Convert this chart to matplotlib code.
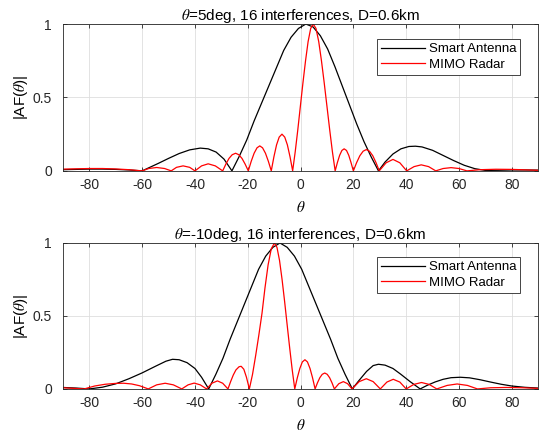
import numpy as np
import matplotlib
matplotlib.use("Agg")
import matplotlib.pyplot as plt

plt.rcParams['font.family'] = ['Liberation Sans', 'DejaVu Sans']
plt.rcParams['mathtext.fontset'] = 'stix'
plt.rcParams['axes.unicode_minus'] = False

# ---- data: (theta in deg, |AF|) ----
# top panel, theta = 5 deg
top_sa_theta = [-90, -85, -80, -75, -70, -65, -60, -57, -54, -50, -46, -42, -38, -35, -32, -29, -26,
                -23.2, -20.4, -17.6, -14.8, -12, -9.2, -6.4, -3.6, -0.8, 2, 4.75, 7.5, 10.25, 13,
                15.75, 18.5, 21.25, 24, 26.75, 29.5, 32, 35, 38, 41, 43.5, 46, 50, 54, 58, 62,
                66, 70, 75, 80, 85, 90]
top_sa_af = [0.008, 0.01, 0.012, 0.012, 0.01, 0.006, 0.0, 0.025, 0.05, 0.085, 0.118, 0.143, 0.155,
             0.15, 0.128, 0.08, 0.0, 0.1, 0.21, 0.34, 0.46, 0.58, 0.70, 0.82, 0.91, 0.97, 1.0, 0.98,
             0.92, 0.83, 0.71, 0.58, 0.45, 0.32, 0.2, 0.095, 0.0, 0.06, 0.115, 0.15, 0.166, 0.168,
             0.163, 0.14, 0.105, 0.07, 0.038, 0.015, 0.003, 0.004, 0.006, 0.006, 0.005]

top_mimo_theta = [-90, -85, -80, -75, -70, -65, -60, -57.5, -54.5, -51.5, -49, -47, -44.5, -42, -40,
                  -37.5, -35, -32.3, -29.5, -28.3, -27.1, -25.9, -24.6, -23.4, -22.2, -21, -19.8,
                  -18.7, -17.6, -16.5, -15.45, -14.4, -13.3, -12.2, -11.1, -10.1, -9.1, -8.1, -7.05,
                  -6.0, -5.0, -4.0, -3, -2.03, -1.05, -0.08, 0.9, 1.88, 2.85, 3.83, 4.8, 5.84, 6.88,
                  7.91, 8.95, 9.99, 11.03, 12.06, 13.1, 13.95, 14.8, 15.65, 16.5, 17.4, 18.25, 19.1,
                  20, 21.2, 22.45, 23.7, 24.9, 26.1, 27.35, 28.6, 29.8, 32.4, 35, 37.6, 40.2, 43,
                  45.7, 48.5, 51.2, 54, 57, 60, 63, 68, 74, 80, 85, 90]
top_mimo_af = [0.012, 0.014, 0.016, 0.016, 0.013, 0.008, 0.0, 0.016, 0.023, 0.016, 0.0, 0.024, 0.034,
               0.024, 0.0, 0.034, 0.048, 0.034, 0.0, 0.046, 0.085, 0.11, 0.12, 0.11, 0.085, 0.046,
               0.0, 0.065, 0.12, 0.157, 0.17, 0.157, 0.12, 0.065, 0.0, 0.096, 0.177, 0.23, 0.25,
               0.23, 0.177, 0.096, 0.0, 0.13, 0.28, 0.44, 0.6, 0.75, 0.88, 0.97, 1.0, 0.97, 0.88,
               0.75, 0.6, 0.44, 0.28, 0.13, 0.0, 0.057, 0.106, 0.139, 0.15, 0.139, 0.106, 0.057,
               0.0, 0.055, 0.103, 0.134, 0.145, 0.134, 0.103, 0.055, 0.0, 0.055, 0.078, 0.055, 0.0,
               0.029, 0.041, 0.029, 0.0, 0.016, 0.022, 0.016, 0.0, 0.008, 0.011, 0.01, 0.007, 0.004]

# bottom panel, theta = -10 deg
bot_sa_theta = [-90, -85, -80, -75, -70, -65, -60, -55, -51, -48.5, -46, -43, -40, -37.5, -34.8,
                -32.1, -29.4, -26.7, -24.0, -21.3, -18.6, -15.9, -13.2, -10.5, -7.8, -5.06, -2.32,
                0.42, 3.16, 5.9, 8.64, 11.38, 14.12, 16.86, 19.6, 22, 25, 27.5, 29.5, 32, 35, 38,
                41.5, 45.3, 48, 51, 54, 57, 60.5, 64, 68, 72, 76, 80, 85, 90]
bot_sa_af = [0.01, 0.006, 0.0, 0.012, 0.035, 0.07, 0.11, 0.155, 0.19, 0.203, 0.2, 0.18, 0.14, 0.08,
             0.0, 0.1, 0.21, 0.34, 0.46, 0.58, 0.70, 0.82, 0.91, 0.97, 1.0, 0.97, 0.91, 0.82, 0.70,
             0.58, 0.46, 0.34, 0.21, 0.1, 0.0, 0.055, 0.12, 0.16, 0.169, 0.163, 0.14, 0.1, 0.05,
             0.0, 0.025, 0.048, 0.066, 0.077, 0.08, 0.076, 0.063, 0.047, 0.032, 0.02, 0.011, 0.006]

bot_mimo_theta = [-90, -86, -82, -78, -74, -70, -67, -64, -61, -57.7, -54.5, -51.3, -48.2, -45,
                  -42.6, -40.3, -38, -35.6, -33.6, -31.5, -29.5, -27.5, -26.5, -25.5, -24.5, -23.3,
                  -22.5, -21.5, -20.5, -19.4, -18.2, -17.0, -15.8, -14.6, -13.5, -12.3, -11.1, -9.9,
                  -8.94, -7.97, -7.01, -6.05, -5.09, -4.12, -3.16, -2.2, -1.24, -0.28, 0.67, 1.65,
                  2.6, 3.58, 4.54, 5.5, 6.4, 7.3, 8.2, 9.15, 10.1, 11, 11.9, 12.8, 14.5, 16.2, 17.8,
                  19.5, 22.2, 24.9, 27.5, 30.2, 32.7, 35.1, 37.6, 40, 42.9, 45.8, 48.7, 51.6, 55.5,
                  59.3, 63.2, 67, 72, 78, 84, 90]
bot_mimo_af = [0.008, 0.004, 0.0, 0.02, 0.032, 0.038, 0.039, 0.034, 0.022, 0.0, 0.028, 0.039, 0.028,
               0.0, 0.028, 0.04, 0.028, 0.0, 0.039, 0.055, 0.039, 0.0, 0.05, 0.095, 0.13, 0.152,
               0.155, 0.135, 0.08, 0.0, 0.1, 0.23, 0.37, 0.52, 0.69, 0.85, 0.96, 1.0, 0.97, 0.88,
               0.75, 0.6, 0.44, 0.28, 0.13, 0.0, 0.076, 0.14, 0.185, 0.2, 0.185, 0.14, 0.076, 0.0,
               0.042, 0.077, 0.1, 0.109, 0.1, 0.077, 0.042, 0.0, 0.036, 0.05, 0.036, 0.0, 0.05, 0.07,
               0.05, 0.0, 0.047, 0.066, 0.047, 0.0, 0.031, 0.044, 0.031, 0.0, 0.024, 0.034, 0.024,
               0.0, 0.008, 0.01, 0.008, 0.004]

titles = [r'$\theta$=5deg, 16 interferences, D=0.6km',
          r'$\theta$=-10deg, 16 interferences, D=0.6km']
xticks = [-80, -60, -40, -20, 0, 20, 40, 60, 80]
yticks = [0, 0.5, 1]
ytick_labels = ['0', '0.5', '1']

fig = plt.figure(figsize=(5.5, 4.37), dpi=100)
ax1 = fig.add_axes([0.1145, 0.609, 0.864, 0.336])
ax2 = fig.add_axes([0.1145, 0.110, 0.864, 0.334])

panels = [(ax1, top_sa_theta, top_sa_af, top_mimo_theta, top_mimo_af, titles[0], 0.898),
          (ax2, bot_sa_theta, bot_sa_af, bot_mimo_theta, bot_mimo_af, titles[1], 0.904)]

for ax, sa_t, sa_v, mi_t, mi_v, ttl, leg_y in panels:
    ax.plot(sa_t, sa_v, color='k', lw=0.9, label='Smart Antenna')
    ax.plot(mi_t, mi_v, color='#ff0000', lw=0.9, label='MIMO Radar')
    ax.set_xlim(-90, 90)
    ax.set_ylim(0, 1)
    ax.set_xticks(xticks)
    ax.set_yticks(yticks)
    ax.set_yticklabels(ytick_labels)
    ax.grid(True, color='#dedede', lw=0.6)
    ax.set_axisbelow(True)
    ax.tick_params(direction='in', top=True, right=True, length=3, width=0.6,
                   labelsize=10, colors='#262626')
    ax.tick_params(axis='y', pad=8)
    ax.tick_params(axis='x', pad=5)
    for s in ax.spines.values():
        s.set_color('#262626')
        s.set_linewidth(0.6)
    ax.set_title(ttl, fontsize=11, pad=3, color='k')
    ax.set_xlabel(r'$\theta$', fontsize=11, labelpad=6)
    ax.set_ylabel(r'|AF($\theta$)|', fontsize=11, labelpad=2)
    leg = ax.legend(loc='upper right', bbox_to_anchor=(0.962, leg_y), fontsize=9.5,
                    frameon=True, fancybox=False, edgecolor='#262626', framealpha=1,
                    handlelength=3.3, handletextpad=0.3, borderpad=0.3, labelspacing=0.25,
                    borderaxespad=0)
    leg.get_frame().set_linewidth(0.6)

fig.savefig('out.png', dpi=100)
